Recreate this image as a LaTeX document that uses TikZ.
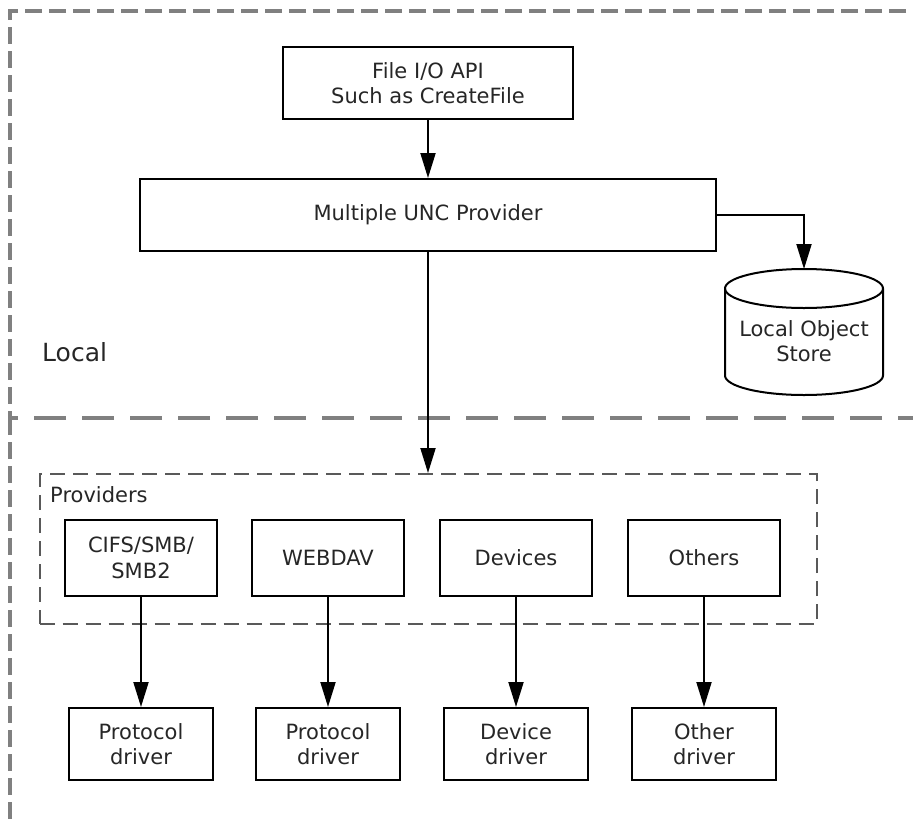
\documentclass[tikz,border=0pt]{standalone}
\usepackage{fontspec}
\setmainfont{DejaVu Sans}
\usetikzlibrary{arrows.meta}
\begin{document}
\begin{tikzpicture}[x=1pt,y=-1pt,
  box/.style={draw=black, line width=2pt, fill=white, align=center, inner sep=0pt,
    font=\fontsize{21}{25.5}\selectfont, text=black!85},
  conn/.style={draw=black, line width=2pt, -{Triangle[length=25pt,width=15pt]}},
  regiondash/.style={draw=black!50, line width=3.5pt, dash pattern=on 17pt off 7pt},
  middash/.style={draw=black!50, line width=3.5pt, dash pattern=on 32pt off 16pt},
  groupdash/.style={draw=black!65, line width=2pt, dash pattern=on 15pt off 8pt},
  lbl/.style={font=\fontsize{21}{25.5}\selectfont, text=black!85, inner sep=0pt}
]
\useasboundingbox (0,0) rectangle (913,825);
% region frames
\draw[regiondash] (930,11) -- (10,11) -- (10,418);
\draw[middash] (930,418) -- (10,418);
\draw[regiondash] (10,418) -- (10,840);
\node[lbl, anchor=west, font=\fontsize{25}{30}\selectfont] (local) at (42,352) {Local};

% top boxes
\node[box, minimum width=290pt, minimum height=72pt] (fileio) at (428,83) {File I/O API\\Such as CreateFile};
\node[box, minimum width=576pt, minimum height=72pt] (mup) at (428,215) {Multiple UNC Provider};

% cylinder
\draw[black, line width=2pt, fill=white]
  (725,288.5) -- (725,375.5)
  .. controls (725,386.27) and (760.4,395) .. (804,395)
  .. controls (847.6,395) and (883,386.27) .. (883,375.5)
  -- (883,288.5)
  .. controls (883,277.73) and (847.6,269) .. (804,269)
  .. controls (760.4,269) and (725,277.73) .. (725,288.5) -- cycle;
\draw[black, line width=2pt]
  (725,288.5) .. controls (725,299.27) and (760.4,308) .. (804,308)
  .. controls (847.6,308) and (883,299.27) .. (883,288.5);
\coordinate (lostop) at (804,269);
\node[lbl, align=center] (los) at (804,341) {Local Object\\Store};

% providers group
\node[groupdash, minimum width=777pt, minimum height=150pt, inner sep=0pt] (providers) at (428,549) {};
\node[lbl, anchor=west] (provlbl) at (50,495) {Providers};

\node[box, minimum width=152pt, minimum height=76pt] (cifs) at (141,558) {CIFS/SMB/\\SMB2};
\node[box, minimum width=152pt, minimum height=76pt] (webdav) at (328,558) {WEBDAV};
\node[box, minimum width=152pt, minimum height=76pt] (devices) at (516,558) {Devices};
\node[box, minimum width=152pt, minimum height=76pt] (others) at (704,558) {Others};

\node[box, minimum width=144pt, minimum height=72pt] (pd1) at (141,744) {Protocol\\driver};
\node[box, minimum width=144pt, minimum height=72pt] (pd2) at (328,744) {Protocol\\driver};
\node[box, minimum width=144pt, minimum height=72pt] (dd) at (516,744) {Device\\driver};
\node[box, minimum width=144pt, minimum height=72pt] (od) at (704,744) {Other\\driver};

% connectors
\draw[conn] (fileio.south) -- (mup.north);
\draw[conn] (mup.east) -| (lostop);
\draw[conn] (mup.south) -- (providers.north);
\draw[conn] (cifs.south) -- (pd1.north);
\draw[conn] (webdav.south) -- (pd2.north);
\draw[conn] (devices.south) -- (dd.north);
\draw[conn] (others.south) -- (od.north);
\end{tikzpicture}
\end{document}
